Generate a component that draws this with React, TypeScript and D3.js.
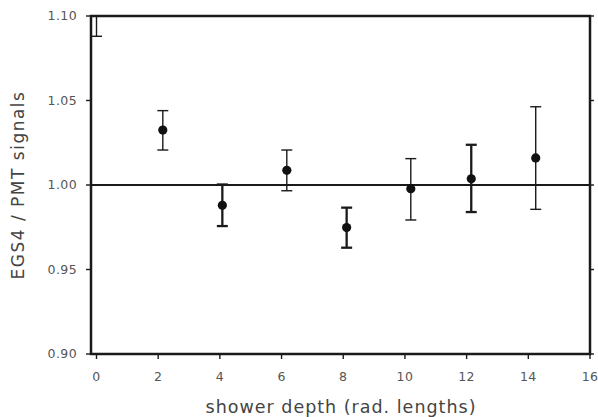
import React from "react";
import * as d3 from "d3";

const depths = [0.0, 2.15, 4.08, 6.17, 8.11, 10.19, 12.15, 14.24];
const ratios = [1.112, 1.0325, 0.988, 1.0087, 0.9748, 0.9978, 1.0037, 1.016];
const errLow = [1.088, 1.0207, 0.9757, 0.9966, 0.9629, 0.9793, 0.984, 0.9856];
const errHigh = [1.136, 1.044, 1.0003, 1.0207, 0.9866, 1.0156, 1.0238, 1.0463];
const boldBars = [false, false, true, false, true, false, true, false];
const xTicks = [0, 2, 4, 6, 8, 10, 12, 14, 16];
const yTicks = [0.9, 0.95, 1.0, 1.05, 1.1];

const W = 598, H = 417;
const left = 91, right = 590, top = 16, bottom = 354;

export default function App() {
  const x = d3.scaleLinear().domain([0, 16]).range([96.5, 590]);
  const y = d3.scaleLinear().domain([0.9, 1.1]).range([bottom, top]);
  const fmt = d3.format(".2f");
  const axisColor = "#1a1a1a";
  const textColor = "#555";
  const font = "DejaVu Sans, Verdana, sans-serif";
  return (
    <svg width={W} height={H} style={{ position: "absolute", left: 0, top: 0, background: "#fff" }}>
      <defs>
        <clipPath id="plot">
          <rect x={left} y={top} width={right - left} height={bottom - top} />
        </clipPath>
      </defs>
      <line x1={left} x2={right} y1={y(1)} y2={y(1)} stroke={axisColor} strokeWidth={1.8} />
      <g clipPath="url(#plot)">
        {depths.map((d, i) => {
          const cx = x(d);
          const sw = boldBars[i] ? 2.3 : 1.4;
          return (
            <g key={i} stroke={axisColor} strokeWidth={sw}>
              <line x1={cx} x2={cx} y1={y(errLow[i])} y2={y(errHigh[i])} />
              <line x1={cx - 5.5} x2={cx + 5.5} y1={y(errLow[i])} y2={y(errLow[i])} />
              <line x1={cx - 5.5} x2={cx + 5.5} y1={y(errHigh[i])} y2={y(errHigh[i])} />
              <circle cx={cx} cy={y(ratios[i])} r={4.6} fill="#111" stroke="none" />
            </g>
          );
        })}
      </g>
      <rect x={left} y={top} width={right - left} height={bottom - top} fill="none" stroke={axisColor} strokeWidth={2.5} />
      {yTicks.map((t) => (
        <g key={"yl" + t}>
          <line x1={left - 5} x2={left} y1={y(t)} y2={y(t)} stroke={axisColor} strokeWidth={1.4} />
          <line x1={right} x2={right + 4} y1={y(t)} y2={y(t)} stroke={axisColor} strokeWidth={1.4} />
          <text x={77} y={y(t)} dy="0.35em" textAnchor="end" fontSize={12.5} letterSpacing={0.4} fill={textColor} fontFamily={font}>
            {fmt(t)}
          </text>
        </g>
      ))}
      {xTicks.map((t) => (
        <g key={"x" + t}>
          <line x1={x(t)} x2={x(t)} y1={bottom} y2={bottom + 5} stroke={axisColor} strokeWidth={1.4} />
          <text x={x(t)} y={377} dy="0.35em" textAnchor="middle" fontSize={12.5} letterSpacing={0.4} fill={textColor} fontFamily={font}>
            {t}
          </text>
        </g>
      ))}
      <text x={341} y={407} dy="0.35em" textAnchor="middle" fontSize={17.5} letterSpacing={1.0} fill="#444" fontFamily={font}>
        shower depth (rad. lengths)
      </text>
      <text transform={`translate(18,${y(1)}) rotate(-90)`} dy="0.35em" textAnchor="middle" fontSize={17} letterSpacing={1.5} fill="#444" fontFamily={font}>
        EGS4 / PMT signals
      </text>
    </svg>
  );
}
